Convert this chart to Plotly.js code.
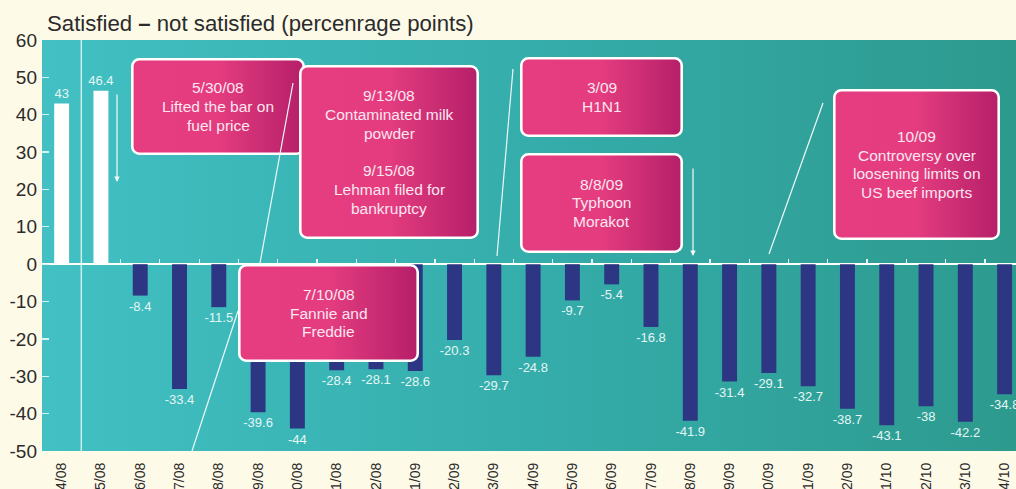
<!DOCTYPE html>
<html>
<head>
<meta charset="utf-8">
<script src="https://cdn.plot.ly/plotly-3.0.1.min.js"></script>
<style>
  html, body { margin: 0; padding: 0; background: #fefae8; }
  #chart { width: 1016px; height: 489px; }
</style>
</head>
<body>
<div id="chart"></div>
<script>
// ---------- data ----------
const months = ['04/08','05/08','06/08','07/08','08/08','09/08','10/08','11/08','12/08',
                '01/09','02/09','03/09','04/09','05/09','06/09','07/09','08/09','09/09',
                '10/09','11/09','12/09','01/10','02/10','03/10','04/10'];
const netSatisfaction = [43, 46.4, -8.4, -33.4, -11.5, -39.6, -44, -28.4, -28.1,
                         -28.6, -20.3, -29.7, -24.8, -9.7, -5.4, -16.8, -41.9, -31.4,
                         -29.1, -32.7, -38.7, -43.1, -38, -42.2, -34.8];
const yTickVals = [-50, -40, -30, -20, -10, 0, 10, 20, 30, 40, 50, 60];
const yTickLabels = ['-50', '-40', '-30', '-20', '-10', '0', '10', '20', '30', '40', '50', '60'];
const chartTitle = 'Satisfied <b>–</b> not satisfied (percenrage points)';
const eventTexts = [
  ['5/30/08', 'Lifted the bar on', 'fuel price'],
  ['9/13/08', 'Contaminated milk', 'powder', '', '9/15/08', 'Lehman filed for', 'bankruptcy'],
  ['3/09', 'H1N1'],
  ['8/8/09', 'Typhoon', 'Morakot'],
  ['10/09', 'Controversy over', 'loosening limits on', 'US beef imports'],
  ['7/10/08', 'Fannie and', 'Freddie']
];

// ---------- geometry helpers (layout in pixels -> paper) ----------
const W = 1016, H = 489;
const M = { l: 42, r: 0, t: 40, b: 38 };
const PW = W - M.l - M.r, PH = H - M.t - M.b;
const px = x => (x - M.l) / PW;
const py = y => (H - M.b - y) / PH;

// event box rectangles in pixels [x0, y0, x1, y1]
const boxes = [
  [131, 58, 305, 155],
  [299, 65, 479, 239],
  [520, 57, 683, 137],
  [520, 153, 683, 253],
  [833, 89, 1000, 240],
  [238, 264, 419, 362]
];

function boxSvg(w, h) {
  const s = `<svg xmlns="http://www.w3.org/2000/svg" width="${w}" height="${h}" viewBox="0 0 ${w} ${h}">` +
    `<defs><linearGradient id="g" x1="0" y1="0" x2="1" y2="0">` +
    `<stop offset="0" stop-color="#e53d80"/><stop offset="0.5" stop-color="#e43c7f"/>` +
    `<stop offset="1" stop-color="#b51f69"/></linearGradient></defs>` +
    `<rect x="1.3" y="1.3" width="${w - 2.6}" height="${h - 2.6}" rx="7" ry="7" fill="url(#g)" stroke="#ffffff" stroke-width="2.6"/></svg>`;
  return 'data:image/svg+xml;charset=utf-8,' + encodeURIComponent(s);
}
const bgSvg = '<svg xmlns="http://www.w3.org/2000/svg" width="974" height="411" viewBox="0 0 100 100" preserveAspectRatio="none">' +
  '<defs><linearGradient id="b" x1="0" y1="0" x2="1" y2="0">' +
  '<stop offset="0" stop-color="#42c0c3"/><stop offset="0.5" stop-color="#35adab"/>' +
  '<stop offset="1" stop-color="#2d9a8e"/></linearGradient></defs>' +
  '<rect x="0" y="0" width="100" height="100" fill="url(#b)"/></svg>';

const images = [{
  source: 'data:image/svg+xml;charset=utf-8,' + encodeURIComponent(bgSvg),
  xref: 'paper', yref: 'paper', x: 0, y: 1, sizex: 1, sizey: 1,
  xanchor: 'left', yanchor: 'top', sizing: 'stretch', layer: 'below'
}];
boxes.forEach(b => {
  images.push({
    source: boxSvg(b[2] - b[0], b[3] - b[1]),
    xref: 'paper', yref: 'paper', x: px(b[0]), y: py(b[1]),
    sizex: (b[2] - b[0]) / PW, sizey: (b[3] - b[1]) / PH,
    xanchor: 'left', yanchor: 'top', sizing: 'stretch', layer: 'above'
  });
});

// one annotation per text line, with the reference's tight line spacing
const LINE = 18.8;
const annotations = [];
boxes.forEach((b, i) => {
  const lines = eventTexts[i];
  const cx = (b[0] + b[2]) / 2, cy = (b[1] + b[3]) / 2;
  lines.forEach((t, j) => {
    if (!t) return;
    const yy = cy + (j - (lines.length - 1) / 2) * LINE;
    annotations.push({
      xref: 'paper', yref: 'paper', x: px(cx), y: py(yy),
      xanchor: 'center', yanchor: 'middle', text: t, showarrow: false,
      font: { family: 'Liberation Sans, Arial, sans-serif', size: 15.5, color: '#fce6f0' }
    });
  });
});
// arrows
[[117, 93, 117, 182], [693, 167, 693, 256]].forEach(a => {
  annotations.push({
    xref: 'paper', yref: 'paper', x: px(a[2]), y: py(a[3]),
    ax: a[0] - a[2], ay: a[1] - a[3], text: '', showarrow: true,
    arrowhead: 2, arrowsize: 0.9, arrowwidth: 1.2, arrowcolor: '#f2fbfb'
  });
});

const lineStyle = { color: '#eefafa', width: 1.2 };
const shapes = [
  { type: 'line', xref: 'x', yref: 'paper', x0: 0.5, x1: 0.5, y0: 0, y1: 1,
    line: { color: '#c9eeee', width: 1.5 }, layer: 'below' }
];
[[293, 83, 260, 263], [238, 311, 192, 451], [513, 69, 497, 256], [823, 103, 769, 254]].forEach(l => {
  shapes.push({ type: 'line', xref: 'paper', yref: 'paper',
    x0: px(l[0]), y0: py(l[1]), x1: px(l[2]), y1: py(l[3]), line: lineStyle, layer: 'above' });
});

const barColors = netSatisfaction.map(v => v >= 0 ? '#ffffff' : '#2c3683');

const traces = [
  {
    type: 'bar', x: months, y: netSatisfaction,
    marker: { color: barColors, line: { width: 0 } },
    text: netSatisfaction.map(String), textposition: 'outside',
    constraintext: 'none', cliponaxis: false,
    textfont: { family: 'Liberation Sans, Arial, sans-serif', size: 13, color: '#e4f6f5' },
    hoverinfo: 'x+y'
  },
  {
    type: 'scatter', mode: 'none', x: months, y: netSatisfaction,
    xaxis: 'x2', yaxis: 'y', hoverinfo: 'skip', showlegend: false
  }
];

const layout = {
  width: W, height: H,
  margin: M,
  paper_bgcolor: '#fefae8',
  plot_bgcolor: 'rgba(0,0,0,0)',
  showlegend: false,
  bargap: 0.62,
  font: { family: 'Liberation Sans, Arial, sans-serif', color: '#2b2b2b' },
  title: {
    text: chartTitle, x: 47 / W, xanchor: 'left', xref: 'container',
    y: 1 - 23 / H, yanchor: 'middle', yref: 'container',
    font: { size: 22.2, color: '#2b2b2b' }
  },
  xaxis: {
    type: 'category', categoryorder: 'array', categoryarray: months,
    range: [-0.5, 24.29], showgrid: false, zeroline: false, showline: false,
    ticks: '', tickangle: -90, automargin: false, ticklabelstandoff: 8,
    tickfont: { size: 14, color: '#2b2b2b' }, fixedrange: true
  },
  xaxis2: {
    type: 'category', categoryorder: 'array', categoryarray: months,
    matches: 'x', overlaying: 'x', anchor: 'free', position: 50 / 110,
    showgrid: false, zeroline: false, showline: false, showticklabels: false,
    ticks: 'inside', tickson: 'boundaries', ticklen: 5, tickwidth: 1.2,
    tickcolor: '#e6f8f8', automargin: false
  },
  yaxis: {
    range: [-50, 60], tickvals: yTickVals, ticktext: yTickLabels,
    ticks: 'inside', ticklen: 7, tickwidth: 1.3, tickcolor: '#d6f2f2',
    showgrid: false, showline: false,
    zeroline: true, zerolinecolor: '#ffffff', zerolinewidth: 2,
    tickfont: { size: 19, color: '#2b2b2b' }, automargin: false,
    ticklabelstandoff: 4, fixedrange: true
  },
  images: images,
  shapes: shapes,
  annotations: annotations
};

Plotly.newPlot('chart', traces, layout, { displayModeBar: false, staticPlot: true });
</script>
</body>
</html>
